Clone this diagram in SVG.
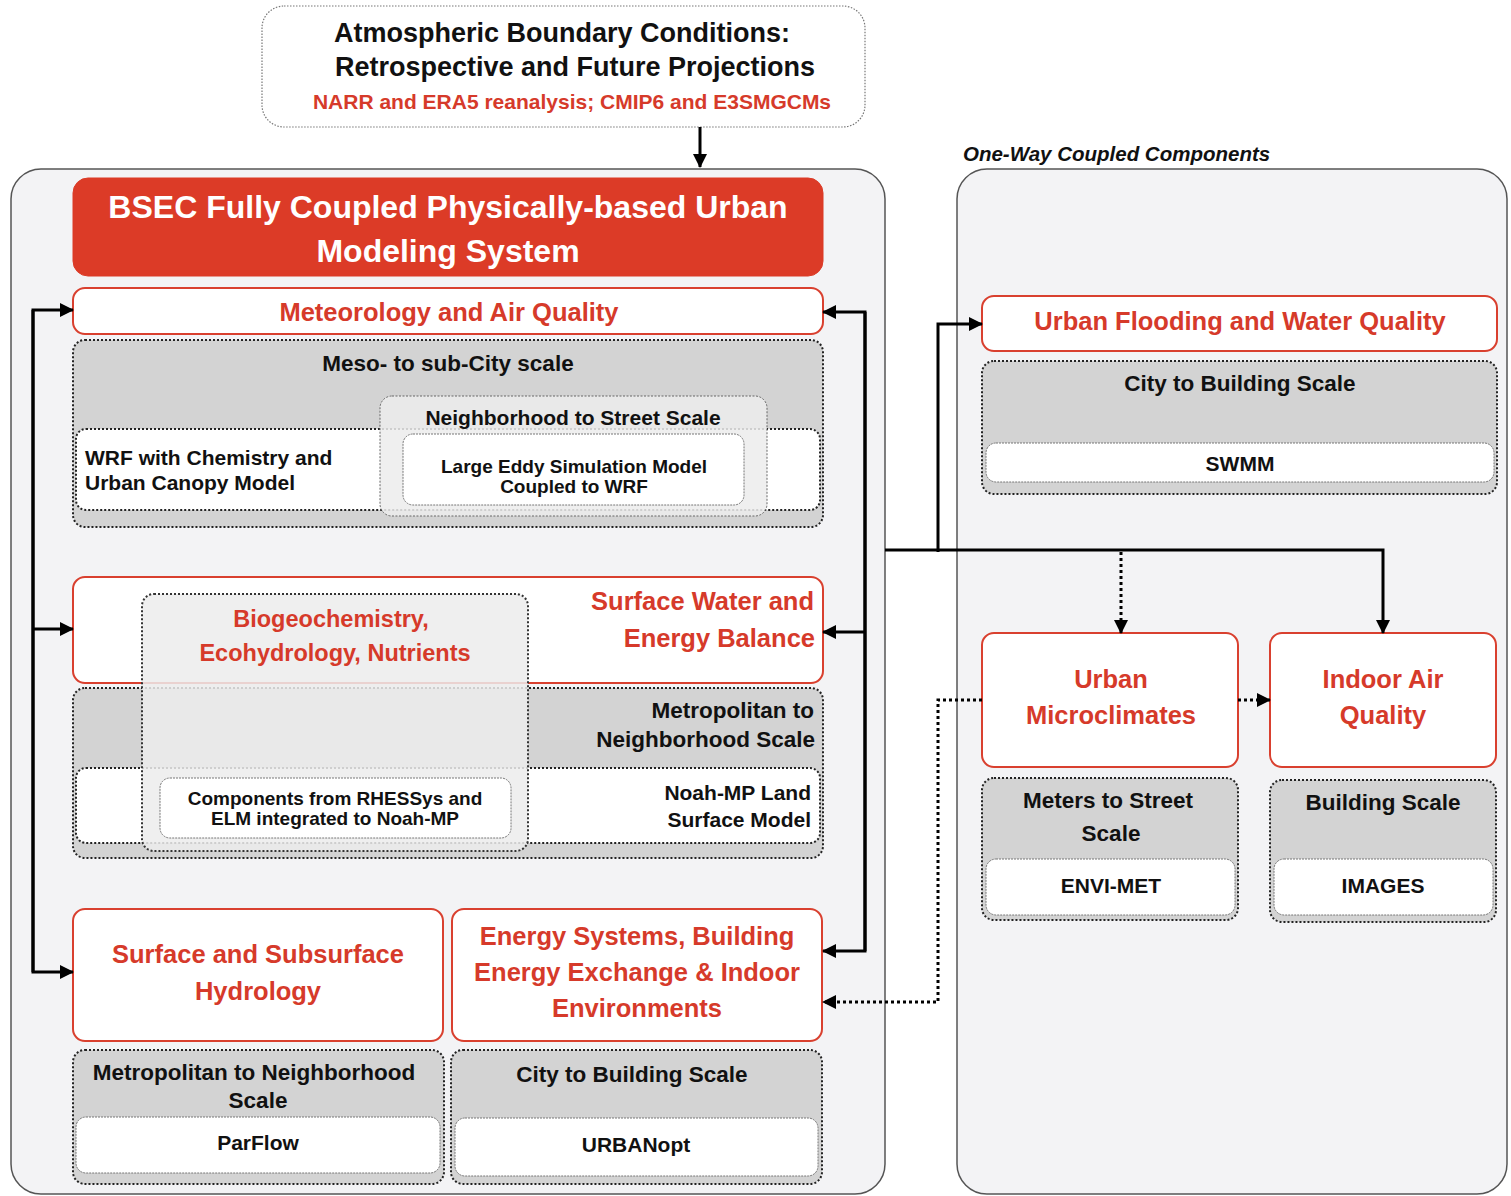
<svg xmlns="http://www.w3.org/2000/svg" width="1511" height="1196" viewBox="0 0 1511 1196">
<style>
text { font-family: "Liberation Sans", Arial, sans-serif; font-weight: bold; }
.panel { fill: #f3f3f5; stroke: #555; stroke-width: 1.5; }
.topbox { fill: #fff; stroke: #777; stroke-width: 1.2; stroke-dasharray: 1.5 1.5; }
.title { fill: #dc3b27; stroke: #dc3b27; stroke-width: 1; }
.red { fill: #fff; stroke: #d9402f; stroke-width: 2; }
.gray { fill: #d3d3d3; stroke: #222; stroke-width: 2; stroke-dasharray: 2 2; }
.wd { fill: #fff; stroke: #222; stroke-width: 2; stroke-dasharray: 2 2; }
.wl { fill: #fff; stroke: #777; stroke-width: 1; stroke-dasharray: 2 1; }
.ov { fill: #ececec; fill-opacity: 0.85; stroke: #666; stroke-width: 1; stroke-dasharray: 2 1.5; }
.ov2 { fill: #ececec; fill-opacity: 0.85; stroke: #333; stroke-width: 2; stroke-dasharray: 2 2; }
.h { font-size: 25.5px; fill: #d63a2a; }
.s { font-size: 22.5px; fill: #111; }
.t { font-size: 21px; fill: #111; }
.m { font-size: 19px; fill: #111; }
.c { text-anchor: middle; }
.r { text-anchor: end; }
.ln { fill: none; stroke: #000; stroke-width: 3; }
.dt { fill: none; stroke: #000; stroke-width: 3; stroke-dasharray: 3 3; }
</style>
<defs>
<marker id="ah" markerUnits="userSpaceOnUse" markerWidth="14" markerHeight="14" refX="13" refY="7" orient="auto">
<path d="M0,0 L14,7 L0,14 z" fill="#000"/>
</marker>
</defs>

<g id="panel-left"><rect class="panel" x="11" y="169" width="874" height="1025" rx="30"/></g>
<g id="panel-right">
<rect class="panel" x="957" y="169" width="550" height="1025" rx="30"/>
<text x="963" y="160.5" style="font-size:20.5px;font-style:italic;fill:#111">One-Way Coupled Components</text>
</g>

<g id="atmos">
<rect class="topbox" x="262" y="6" width="603" height="121" rx="22"/>
<text class="c" x="562" y="42" style="font-size:27px;fill:#111">Atmospheric Boundary Conditions:</text>
<text class="c" x="575" y="76" style="font-size:27px;fill:#111">Retrospective and Future Projections</text>
<text class="c" x="572" y="108.5" style="font-size:21px;fill:#d63a2a">NARR and ERA5 reanalysis; CMIP6 and E3SMGCMs</text>
</g>

<g id="bsec">
<rect class="title" x="73" y="178" width="750" height="98" rx="15"/>
<text class="c" x="448" y="217.5" style="font-size:32px;fill:#fff">BSEC Fully Coupled Physically-based Urban</text>
<text class="c" x="448" y="261.5" style="font-size:32px;fill:#fff">Modeling System</text>
</g>

<g id="met">
<rect class="red" x="73" y="288" width="750" height="46" rx="12"/>
<text class="h c" x="449" y="321">Meteorology and Air Quality</text>
<rect class="gray" x="73" y="340" width="750" height="187" rx="12"/>
<text class="s c" x="448" y="371">Meso- to sub-City scale</text>
<rect class="wd" x="76" y="429" width="744" height="81" rx="10"/>
<text class="t" x="85" y="464.5">WRF with Chemistry and</text>
<text class="t" x="85" y="489.5">Urban Canopy Model</text>
</g>
<g id="les">
<rect class="ov" x="380" y="396" width="387" height="120" rx="12"/>
<text class="t c" x="573" y="424.5">Neighborhood to Street Scale</text>
<rect class="wl" x="403" y="434" width="341" height="71" rx="10"/>
<text class="m c" x="574" y="473">Large Eddy Simulation Model</text>
<text class="m c" x="574" y="493">Coupled to WRF</text>
</g>

<g id="swe">
<rect class="red" x="73" y="577" width="750" height="106" rx="12"/>
<text class="h r" x="814" y="610">Surface Water and</text>
<text class="h r" x="815" y="647">Energy Balance</text>
<rect class="gray" x="73" y="688" width="750" height="170" rx="12"/>
<text class="s r" x="814" y="718">Metropolitan to</text>
<text class="s r" x="815" y="747">Neighborhood Scale</text>
<rect class="wd" x="76" y="768" width="744" height="75" rx="10"/>
<text class="t r" x="811" y="799.5">Noah-MP Land</text>
<text class="t r" x="811" y="826.5">Surface Model</text>
</g>
<g id="bio">
<rect class="ov2" x="142" y="594" width="386" height="257" rx="12"/>
<text class="c" x="331" y="626.5" style="font-size:23.5px;fill:#d63a2a">Biogeochemistry,</text>
<text class="c" x="335" y="660.5" style="font-size:23.5px;fill:#d63a2a">Ecohydrology, Nutrients</text>
<rect class="wl" x="160" y="778" width="351" height="60" rx="10"/>
<text class="m c" x="335" y="805">Components from RHESSys and</text>
<text class="m c" x="335" y="825">ELM integrated to Noah-MP</text>
</g>

<g id="hydro">
<rect class="red" x="73" y="909" width="370" height="132" rx="12"/>
<text class="h c" x="258" y="963">Surface and Subsurface</text>
<text class="h c" x="258" y="1000">Hydrology</text>
<rect class="gray" x="73" y="1050" width="371" height="134" rx="12"/>
<text class="s c" x="254" y="1080">Metropolitan to Neighborhood</text>
<text class="s c" x="258" y="1108">Scale</text>
<rect class="wl" x="76" y="1117" width="364" height="56" rx="10"/>
<text class="t c" x="258" y="1149.5">ParFlow</text>
</g>

<g id="energy">
<rect class="red" x="452" y="909" width="370" height="132" rx="12"/>
<text class="h c" x="637" y="945">Energy Systems, Building</text>
<text class="h c" x="637" y="981">Energy Exchange &amp; Indoor</text>
<text class="h c" x="637" y="1017">Environments</text>
<rect class="gray" x="451" y="1050" width="371" height="134" rx="12"/>
<text class="s c" x="632" y="1082">City to Building Scale</text>
<rect class="wl" x="455" y="1118" width="363" height="58" rx="10"/>
<text class="t c" x="636" y="1151.5">URBANopt</text>
</g>

<g id="flood">
<rect class="red" x="982" y="296" width="515" height="55" rx="12"/>
<text class="h c" x="1240" y="330">Urban Flooding and Water Quality</text>
<rect class="gray" x="982" y="361" width="515" height="133" rx="12"/>
<text class="s c" x="1240" y="391">City to Building Scale</text>
<rect class="wl" x="986" y="443" width="508" height="39" rx="10"/>
<text class="t c" x="1240" y="470.5">SWMM</text>
</g>

<g id="micro">
<rect class="red" x="982" y="633" width="256" height="134" rx="12"/>
<text class="h c" x="1111" y="688">Urban</text>
<text class="h c" x="1111" y="724">Microclimates</text>
<rect class="gray" x="982" y="778" width="256" height="142" rx="12"/>
<text class="s c" x="1108" y="808">Meters to Street</text>
<text class="s c" x="1111" y="841">Scale</text>
<rect class="wl" x="986" y="859" width="249" height="56" rx="10"/>
<text class="t c" x="1111" y="892.5">ENVI-MET</text>
</g>

<g id="indoor">
<rect class="red" x="1270" y="633" width="226" height="134" rx="12"/>
<text class="h c" x="1383" y="688">Indoor Air</text>
<text class="h c" x="1383" y="724">Quality</text>
<rect class="gray" x="1270" y="780" width="226" height="142" rx="12"/>
<text class="s c" x="1383" y="810">Building Scale</text>
<rect class="wl" x="1274" y="859" width="219" height="56" rx="10"/>
<text class="t c" x="1383" y="892.5">IMAGES</text>
</g>

<g id="connectors">
<path class="ln" d="M700,127 V167" marker-end="url(#ah)"/>
<path class="ln" d="M33,972 V310 H73" marker-end="url(#ah)"/>
<path class="ln" d="M33,629 H73" marker-end="url(#ah)"/>
<path class="ln" d="M33,310 V972 H73" marker-end="url(#ah)"/>
<path class="ln" d="M865,951 V312 H823" marker-end="url(#ah)"/>
<path class="ln" d="M865,632 H823" marker-end="url(#ah)"/>
<path class="ln" d="M865,312 V951 H823" marker-end="url(#ah)"/>
<path class="ln" d="M885,550 H1383 V633" marker-end="url(#ah)"/>
<path class="ln" d="M938,552 V324 H982" marker-end="url(#ah)"/>
<path class="dt" d="M1121,552 V633" marker-end="url(#ah)"/>
<path class="dt" d="M982,700 H938 V1002 H823" marker-end="url(#ah)"/>
<path class="dt" d="M1238,700 H1270" marker-end="url(#ah)"/>
</g>
</svg>
